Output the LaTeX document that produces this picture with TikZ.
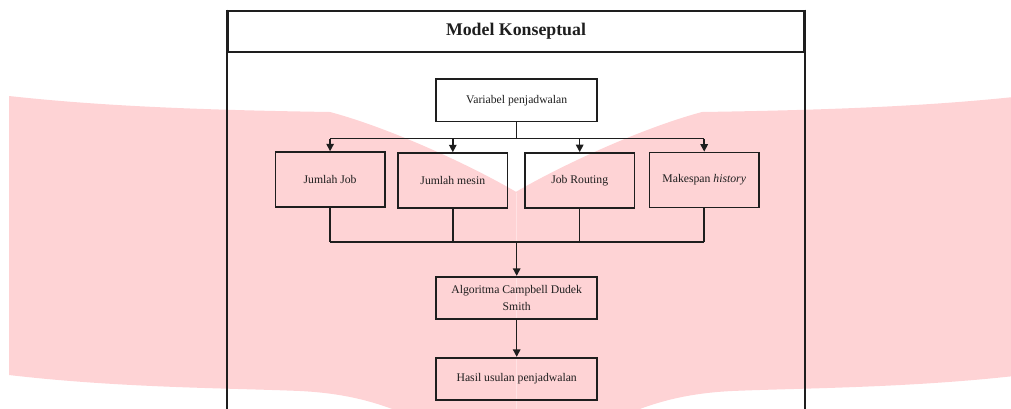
\documentclass[tikz,border=0pt]{standalone}
\usepackage{fontspec}
\setmainfont{Liberation Serif}
\usetikzlibrary{arrows.meta,positioning}
\definecolor{wmpink}{RGB}{254,211,213}
\definecolor{wmseam}{RGB}{255,226,228}
\definecolor{ink}{RGB}{30,30,30}
\begin{document}
\begin{tikzpicture}
        [x=1pt,y=-1pt,
        every node/.style={text=ink,font=\fontsize{11.7}{17}\selectfont},
        box/.style={draw=ink,line width=1.7pt,minimum height=42.6pt,inner sep=2pt,align=center},
        wide box/.style={box,minimum width=160.8pt},
        small box/.style={box,minimum width=109.4pt,minimum height=55pt},
        conn/.style={draw=ink,line width=1.5pt},
        arr/.style={-{Triangle[length=7.5pt,width=7.5pt]}}]
        \useasboundingbox (0,0) rectangle (1011,408);
        \begin{scope}
          \clip (0,0) rectangle (1011,408);
          % watermark, left half and its mirror
          \foreach \side in {1,-1} {
            \begin{scope}[xshift={(1-\side)*516pt},xscale=\side]
              \fill[wmpink] (9,96) .. controls (100,106) and (200,110) .. (330,112)
                .. controls (390,128) and (470,165) .. (516.3,192) -- (516.3,420) -- (404,420)
                -- (400,412) .. controls (370,400) and (340,393) .. (300,391)
                .. controls (230,388) and (120,388) .. (9,375) -- cycle;
            \end{scope}
          }
          \draw[wmseam,line width=0.7pt] (516,193) -- (516,420);
          \node[draw=ink,line width=2pt,minimum width=576pt,minimum height=41pt,inner sep=0pt,
            font=\fontsize{17.8}{20}\selectfont\bfseries] (title) at (516,31) {Model Konseptual};
          \draw[draw=ink,line width=2pt] (title.north west) -- (title.north west |- 0,430);
          \draw[draw=ink,line width=2pt] (title.north east) -- (title.north east |- 0,430);
        \end{scope}
        \node[wide box] (var) at (516.7,100.3) {Variabel penjadwalan};
        \node[small box] (jjob) at (330.1,179.6) {Jumlah Job};
        \node[small box] (jmes) at (452.8,180.6) {Jumlah mesin};
        \node[small box] (jrout) at (579.7,180.5) {Job Routing};
        \node[small box] (mak) at (704.2,180) {Makespan \textit{history}};
        \node[wide box] (cds) at (516.7,298) {Algoritma Campbell Dudek\\Smith};
        \node[wide box] (hasil) at (516.7,379) {Hasil usulan penjadwalan};
        \coordinate (split) at (516.7,138.5);
        \coordinate (merge) at (516.7,242);
        \draw[conn] (var.south) -- (split);
        \draw[conn] (jjob.north |- split) -- (mak.north |- split);
        \foreach \n in {jjob,jmes,jrout,mak}
          \draw[conn,arr] (\n.north |- split) -- (\n.north);
        \foreach \n in {jjob,jmes,jrout,mak}
          \draw[conn] (\n.south) -- (\n.south |- merge);
        \draw[conn] (jjob.south |- merge) -- (mak.south |- merge);
        \draw[conn,arr] (merge) -- (cds.north);
        \draw[conn,arr] (cds.south) -- (hasil.north);
      \end{tikzpicture}
\end{document}
